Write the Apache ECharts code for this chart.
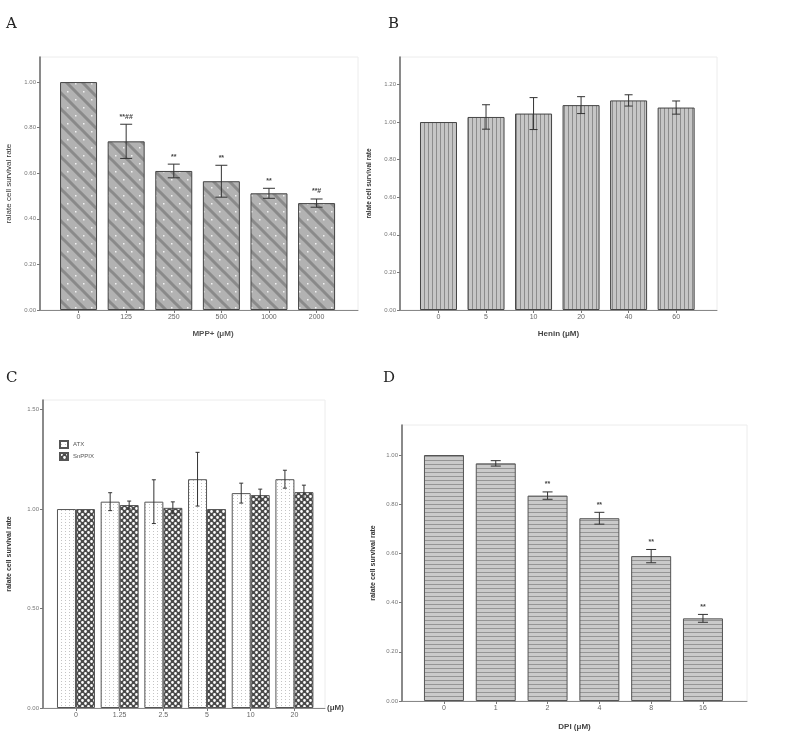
<!DOCTYPE html>
<html>
<head>
<meta charset="utf-8">
<script src="https://cdn.jsdelivr.net/npm/echarts@6/dist/echarts.min.js"></script>
<style>
html, body { margin: 0; background: #fff; }
#chart { width: 800px; height: 738px; }
</style>
</head>
<body>
<div id="chart"></div>
<script>
// panel A - MPP+
const mppCats = ['0', '125', '250', '500', '1000', '2000']
const mppMean = [1.00, 0.74, 0.61, 0.565, 0.512, 0.469]
const mppErr = [0, 0.075, 0.03, 0.07, 0.022, 0.018]
const mppSig = ['', '**##', '**', '**', '**', '**#']

// panel B - Hemin
const heminCats = ['0', '5', '10', '20', '40', '60']
const heminMean = [1.00, 1.027, 1.045, 1.09, 1.115, 1.077]
const heminErr = [0, 0.065, 0.085, 0.045, 0.03, 0.035]

// panel C - ATX / SnPPIX
const doseCats = ['0', '1.25', '2.5', '5', '10', '20']
const atxMean = [1.00, 1.037, 1.037, 1.15, 1.08, 1.15]
const atxErr = [0, 0.045, 0.11, 0.135, 0.05, 0.045]
const snMean = [1.00, 1.02, 1.006, 1.00, 1.07, 1.085]
const snErr = [0, 0.02, 0.03, 0, 0.03, 0.035]

// panel D - DPI
const dpiCats = ['0', '1', '2', '4', '8', '16']
const dpiMean = [1.00, 0.966, 0.835, 0.743, 0.589, 0.336]
const dpiErr = [0, 0.011, 0.015, 0.024, 0.027, 0.016]
const dpiSig = ['', '', '**', '**', '**', '**']

const ticksA = [0, 0.2, 0.4, 0.6, 0.8, 1.0]
const ticksB = [0, 0.2, 0.4, 0.6, 0.8, 1.0, 1.2]
const ticksC = [0, 0.5, 1.0, 1.5]
const ticksD = [0, 0.2, 0.4, 0.6, 0.8, 1.0]

const yName = 'ralate cell survival rate'
const FONT = 'Liberation Sans'

// small canvas tiles used as bar fills
const makePattern = (w, h, draw) => {
  const c = document.createElement('canvas')
  c.width = w
  c.height = h
  draw(c.getContext('2d'), w, h)
  return { image: c, repeat: 'repeat' }
}

const diagFill = makePattern(16, 16, (g, w, h) => {
  g.fillStyle = '#b2b2b2'
  g.fillRect(0, 0, w, h)
  g.strokeStyle = '#8a8a8a'
  g.lineWidth = 3
  g.beginPath()
  g.moveTo(-2, -2); g.lineTo(w + 2, h + 2)
  g.moveTo(-2, h - 2); g.lineTo(2, h + 2)
  g.moveTo(w - 2, -2); g.lineTo(w + 2, 2)
  g.stroke()
  g.fillStyle = '#f2f2f2'
  g.fillRect(11, 3, 1.5, 1.5)
  g.fillRect(3, 11, 1.5, 1.5)
})

const vStripeFill = makePattern(4, 4, (g, w, h) => {
  g.fillStyle = '#c6c6c6'
  g.fillRect(0, 0, w, h)
  g.fillStyle = '#8c8c8c'
  g.fillRect(0, 0, 1, h)
})

const hStripeFill = makePattern(4, 4, (g, w, h) => {
  g.fillStyle = '#cacaca'
  g.fillRect(0, 0, w, h)
  g.fillStyle = '#959595'
  g.fillRect(0, 0, w, 1)
})

const dotLineFill = makePattern(4, 3, (g, w, h) => {
  g.fillStyle = '#ffffff'
  g.fillRect(0, 0, w, h)
  g.fillStyle = '#c4c4c4'
  g.fillRect(1, 0, 1, 1)
})

const honeyFill = makePattern(6, 6, (g, w, h) => {
  g.fillStyle = '#4a4a4a'
  g.fillRect(0, 0, w, h)
  g.fillStyle = '#ffffff'
  g.beginPath()
  g.arc(1.5, 1.5, 1.4, 0, Math.PI * 2)
  g.arc(4.5, 4.5, 1.4, 0, Math.PI * 2)
  g.fill()
})

const chart = echarts.init(document.getElementById('chart'))

const idx = [0, 1, 2, 3, 4, 5]

const makeX = (gridIndex, cats, min, max, name, nameOpts) => ({
  type: 'value',
  gridIndex,
  min,
  max,
  name,
  nameLocation: 'middle',
  nameGap: 20,
  nameTextStyle: { fontFamily: FONT, fontSize: 8, fontWeight: 'bold', color: '#444' },
  ...nameOpts,
  splitLine: { show: false },
  axisLine: { onZero: false, lineStyle: { color: '#888', width: 1 } },
  axisTick: { customValues: idx, length: 3, lineStyle: { color: '#777' } },
  axisLabel: {
    customValues: idx,
    formatter: v => cats[Math.round(v)],
    fontFamily: FONT,
    fontSize: 7,
    color: '#666',
    margin: 4
  }
})

const makeY = (gridIndex, ticks, max, nameSize, nameWeight, nameGap) => ({
  type: 'value',
  gridIndex,
  min: 0,
  max,
  name: yName,
  nameLocation: 'middle',
  nameGap,
  nameTextStyle: { fontFamily: FONT, fontSize: nameSize, fontWeight: nameWeight, color: '#333' },
  splitLine: { show: false },
  axisLine: { show: true, onZero: false, lineStyle: { color: '#666', width: 1.5 } },
  axisTick: { show: true, customValues: ticks, length: 3, lineStyle: { color: '#777' } },
  axisLabel: {
    customValues: ticks,
    formatter: v => v.toFixed(2),
    fontFamily: FONT,
    fontSize: 6,
    color: '#777',
    margin: 4
  }
})

const barSeries = (name, axis, means, fill, width, border) => ({
  name,
  type: 'bar',
  xAxisIndex: axis,
  yAxisIndex: axis,
  data: means.map((m, i) => [i, m]),
  barWidth: width,
  barGap: '0%',
  itemStyle: { color: fill, borderColor: border, borderWidth: 1 },
  silent: true
})

const errSeries = (axis, means, errs, sigs, cap, shift) => ({
  type: 'custom',
  xAxisIndex: axis,
  yAxisIndex: axis,
  data: means.map((m, i) => [i, m, errs[i]]),
  encode: { x: 0, y: 1 },
  z: 5,
  silent: true,
  renderItem: (params, api) => {
    const i = params.dataIndex
    const x = api.value(0)
    const m = api.value(1)
    const e = api.value(2)
    const hi = api.coord([x, m + e])
    const lo = api.coord([x, m - e])
    const cx = hi[0] + shift
    const style = { stroke: '#333', lineWidth: 1 }
    const children = []
    if (e > 0) {
      children.push(
        { type: 'line', shape: { x1: cx, y1: hi[1], x2: cx, y2: lo[1] }, style },
        { type: 'line', shape: { x1: cx - cap / 2, y1: hi[1], x2: cx + cap / 2, y2: hi[1] }, style },
        { type: 'line', shape: { x1: cx - cap / 2, y1: lo[1], x2: cx + cap / 2, y2: lo[1] }, style }
      )
    }
    if (sigs && sigs[i]) {
      children.push({
        type: 'text',
        style: {
          x: cx, y: hi[1] - 4, text: sigs[i],
          align: 'center', verticalAlign: 'bottom',
          fontFamily: FONT, fontSize: 7, fontWeight: 'bold', fill: '#444'
        }
      })
    }
    return { type: 'group', children }
  }
})

const letter = (text, left, top) => ({
  text, left, top,
  textStyle: { fontFamily: 'DejaVu Serif', fontSize: 15, fontWeight: 'normal', color: '#222' }
})

const boxStyle = { show: true, borderColor: '#ececec', borderWidth: 1, backgroundColor: 'transparent' }

const option = {
  backgroundColor: '#fff',
  animation: false,
  title: [
    letter('A', 1, 12),
    letter('B', 383, 12),
    letter('C', 1, 366),
    letter('D', 378, 366)
  ],
  legend: {
    data: ['ATX', 'SnPPIX'],
    orient: 'vertical',
    left: 54,
    top: 435,
    icon: 'rect',
    itemWidth: 8,
    itemHeight: 7,
    itemGap: 3,
    selectedMode: false,
    textStyle: { fontFamily: FONT, fontSize: 6, color: '#555' }
  },
  grid: [
    { left: 40, top: 57, width: 318, height: 253, ...boxStyle },
    { left: 400, top: 57, width: 317, height: 253, ...boxStyle },
    { left: 43, top: 400, width: 282, height: 308, ...boxStyle },
    { left: 402, top: 425, width: 345, height: 276, ...boxStyle }
  ],
  xAxis: [
    makeX(0, mppCats, -0.81, 5.87, 'MPP+ (\u03bcM)', { nameTextStyle: { fontFamily: FONT, fontSize: 8, fontWeight: 'bold', color: '#555', padding: [0, 0, 0, 28] } }),
    makeX(1, heminCats, -0.81, 5.86, 'Henin (\u03bcM)'),
    makeX(2, doseCats, -0.755, 5.70, '(\u03bcM)', {
      nameLocation: 'end',
      nameGap: 2,
      nameTextStyle: { fontFamily: FONT, fontSize: 8, fontWeight: 'bold', color: '#444', align: 'left', padding: [28, 0, 0, 0] }
    }),
    makeX(3, dpiCats, -0.81, 5.85, 'DPI (\u03bcM)', { nameGap: 22 })
  ],
  yAxis: [
    makeY(0, ticksA, 1.11, 8, 'normal', 27),
    makeY(1, ticksB, 1.346, 6.5, 'bold', 27),
    makeY(2, ticksC, 1.548, 7, 'bold', 30),
    makeY(3, ticksD, 1.122, 7, 'bold', 25)
  ],
  series: [
    barSeries('MPP+', 0, mppMean, diagFill, 37, '#444'),
    errSeries(0, mppMean, mppErr, mppSig, 12, 0),
    barSeries('Hemin', 1, heminMean, vStripeFill, 37, '#444'),
    errSeries(1, heminMean, heminErr, null, 8, 0),
    barSeries('ATX', 2, atxMean, dotLineFill, 19, '#555'),
    barSeries('SnPPIX', 2, snMean, honeyFill, 19, '#555'),
    errSeries(2, atxMean, atxErr, null, 4, -9.5),
    errSeries(2, snMean, snErr, null, 4, 9.5),
    barSeries('DPI', 3, dpiMean, hStripeFill, 40, '#555'),
    errSeries(3, dpiMean, dpiErr, dpiSig, 10, 0)
  ]
}

chart.setOption(option)

window.addEventListener('resize', () => {
  chart.resize()
})
</script>
</body>
</html>
